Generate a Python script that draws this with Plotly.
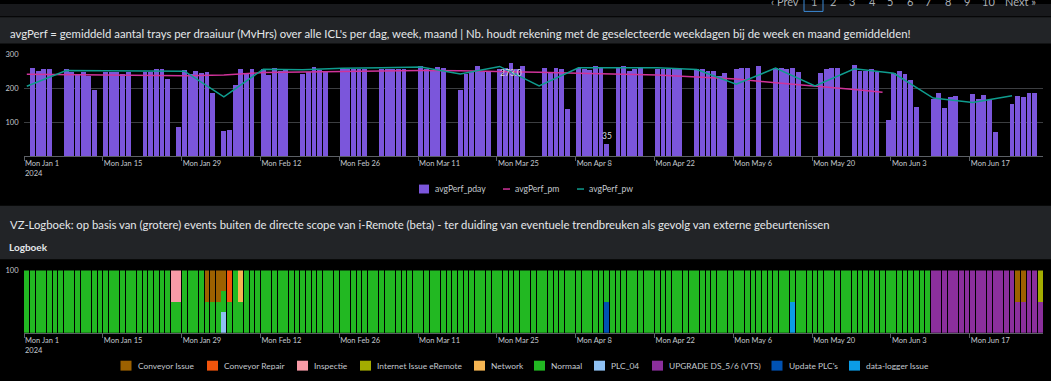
import pandas as pd
import plotly.graph_objects as go

# ---------------- data: top chart (avgPerf) ----------------
pday_dates = [
    "2024-01-02", "2024-01-03", "2024-01-04", "2024-01-05",
    "2024-01-08", "2024-01-09", "2024-01-10", "2024-01-11", "2024-01-12", "2024-01-13",
    "2024-01-15", "2024-01-16", "2024-01-17", "2024-01-18", "2024-01-19",
    "2024-01-22", "2024-01-23", "2024-01-24", "2024-01-25", "2024-01-26",
    "2024-01-28", "2024-01-29", "2024-01-30", "2024-01-31", "2024-02-01", "2024-02-02", "2024-02-03",
    "2024-02-05", "2024-02-06", "2024-02-07", "2024-02-08", "2024-02-09", "2024-02-10",
    "2024-02-12", "2024-02-13", "2024-02-14", "2024-02-15", "2024-02-16",
    "2024-02-19", "2024-02-20", "2024-02-21", "2024-02-22", "2024-02-23",
    "2024-02-26", "2024-02-27", "2024-02-28", "2024-02-29", "2024-03-01",
    "2024-03-04", "2024-03-05", "2024-03-06", "2024-03-07", "2024-03-08",
    "2024-03-11", "2024-03-12", "2024-03-13", "2024-03-14", "2024-03-15",
    "2024-03-18", "2024-03-19", "2024-03-20", "2024-03-21", "2024-03-22", "2024-03-23",
    "2024-03-25", "2024-03-26", "2024-03-27", "2024-03-28", "2024-03-29",
    "2024-04-02", "2024-04-03", "2024-04-04", "2024-04-05", "2024-04-06",
    "2024-04-08", "2024-04-09", "2024-04-10", "2024-04-11", "2024-04-12", "2024-04-13",
    "2024-04-15", "2024-04-16", "2024-04-17", "2024-04-18", "2024-04-19",
    "2024-04-22", "2024-04-23", "2024-04-24", "2024-04-25", "2024-04-26",
    "2024-04-29", "2024-04-30", "2024-05-01", "2024-05-02", "2024-05-03", "2024-05-04",
    "2024-05-06", "2024-05-07", "2024-05-08", "2024-05-10",
    "2024-05-13", "2024-05-14", "2024-05-15", "2024-05-16", "2024-05-17",
    "2024-05-21", "2024-05-22", "2024-05-23", "2024-05-24",
    "2024-05-27", "2024-05-28", "2024-05-29", "2024-05-30", "2024-05-31",
    "2024-06-02", "2024-06-03", "2024-06-04", "2024-06-05", "2024-06-06", "2024-06-07",
    "2024-06-10", "2024-06-11", "2024-06-12", "2024-06-13", "2024-06-14",
    "2024-06-17", "2024-06-18", "2024-06-19", "2024-06-20", "2024-06-21",
    "2024-06-24", "2024-06-25", "2024-06-26", "2024-06-27", "2024-06-28",
]
pday_values = [
    259, 252, 255, 257,
    255, 248, 241, 247, 235, 195,
    247, 247, 247, 243, 247,
    247, 247, 255, 255, 228,
    86, 253, 241, 251, 245, 247, 186,
    74, 77, 210, 255, 244, 255,
    255, 239, 259, 250, 256,
    243, 249, 262, 253, 247,
    255, 257, 255, 256, 255,
    255, 256, 255, 257, 256,
    266, 257, 250, 261, 259,
    194, 242, 249, 264, 248, 249,
    257, 258, 273, 256, 265,
    259, 249, 259, 255, 139,
    260, 255, 253, 265, 259, 35,
    258, 265, 252, 255, 258,
    257, 256, 256, 256, 257,
    256, 255, 252, 250, 237, 245,
    255, 259, 259, 265,
    259, 258, 257, 259, 249,
    245, 255, 259, 259,
    267, 251, 251, 257, 249,
    108, 245, 251, 241, 224, 146,
    169, 185, 142, 173, 176,
    182, 169, 180, 166, 72,
    153, 178, 173, 187, 185,
]

pm_dates = [
    "2024-01-01", "2024-01-08", "2024-01-15", "2024-01-22", "2024-01-29",
    "2024-02-05", "2024-02-12", "2024-02-19", "2024-02-26", "2024-03-04",
    "2024-03-11", "2024-03-18", "2024-03-25", "2024-04-01", "2024-04-08",
    "2024-04-15", "2024-04-22", "2024-04-29", "2024-05-06", "2024-05-13",
    "2024-05-20", "2024-05-27", "2024-06-01",
]
pm_values = [
    241, 240, 240, 239, 237,
    239, 246, 248, 250, 251,
    252, 251, 250, 247, 244,
    242, 239, 233, 227, 216,
    207, 196, 188,
]

pw_dates = [
    "2024-01-01", "2024-01-08", "2024-01-15", "2024-01-22", "2024-01-29",
    "2024-02-05", "2024-02-12", "2024-02-19", "2024-02-26", "2024-03-04",
    "2024-03-11", "2024-03-18", "2024-03-25", "2024-04-01", "2024-04-08",
    "2024-04-15", "2024-04-22", "2024-04-29", "2024-05-06", "2024-05-13",
    "2024-05-20", "2024-05-27", "2024-06-03", "2024-06-10", "2024-06-17",
    "2024-06-24",
]
pw_values = [
    206, 252, 251, 251, 250,
    175, 256, 254, 259, 260,
    262, 242, 264, 207, 260,
    260, 260, 255, 212, 259,
    207, 257, 244, 171, 158,
    178,
]

# ---------------- data: bottom chart (Logboek) ----------------
log_start, log_end = "2024-01-01", "2024-06-29"
log_categories = [
    "Conveyor Issue", "Conveyor Repair", "Inspectie", "Internet Issue eRemote",
    "Network", "Normaal", "PLC_04", "UPGRADE DS_5/6 (VTS)", "Update PLC's",
    "data-logger Issue",
]
# runs of (first day, last day, value) per category
log_runs = {
    "Conveyor Issue": [("2024-02-02", "2024-02-04", 50), ("2024-02-05", "2024-02-05", 33.3),
                       ("2024-06-25", "2024-06-26", 50)],
    "Conveyor Repair": [("2024-02-06", "2024-02-06", 50)],
    "Inspectie": [("2024-01-27", "2024-01-28", 50)],
    "Internet Issue eRemote": [("2024-06-29", "2024-06-29", 50)],
    "Network": [("2024-02-08", "2024-02-08", 50)],
    "Normaal": [("2024-01-01", "2024-01-26", 100), ("2024-01-27", "2024-01-28", 50),
                ("2024-01-29", "2024-02-01", 100), ("2024-02-02", "2024-02-04", 50),
                ("2024-02-05", "2024-02-05", 33.4), ("2024-02-06", "2024-02-06", 50),
                ("2024-02-07", "2024-02-07", 100), ("2024-02-08", "2024-02-08", 50),
                ("2024-02-09", "2024-04-12", 100), ("2024-04-13", "2024-04-13", 50),
                ("2024-04-14", "2024-05-15", 100), ("2024-05-16", "2024-05-16", 50),
                ("2024-05-17", "2024-06-09", 100)],
    "PLC_04": [("2024-02-05", "2024-02-05", 33.3)],
    "UPGRADE DS_5/6 (VTS)": [("2024-06-10", "2024-06-24", 100), ("2024-06-25", "2024-06-26", 50),
                             ("2024-06-27", "2024-06-28", 100), ("2024-06-29", "2024-06-29", 50)],
    "Update PLC's": [("2024-04-13", "2024-04-13", 50)],
    "data-logger Issue": [("2024-05-16", "2024-05-16", 50)],
}
log_colors = {
    "Conveyor Issue": "#9c6100",
    "Conveyor Repair": "#f2540c",
    "Inspectie": "#f79aa6",
    "Internet Issue eRemote": "#a3ac00",
    "Network": "#f6b552",
    "Normaal": "#22b822",
    "PLC_04": "#8fc1f3",
    "UPGRADE DS_5/6 (VTS)": "#8b2f9c",
    "Update PLC's": "#0052b3",
    "data-logger Issue": "#0b9ce6",
}

tick_dates = ["2024-01-01", "2024-01-15", "2024-01-29", "2024-02-12", "2024-02-26",
              "2024-03-11", "2024-03-25", "2024-04-08", "2024-04-22", "2024-05-06",
              "2024-05-20", "2024-06-03", "2024-06-17"]
tick_labels = ["Mon Jan 1<br>2024", "Mon Jan 15", "Mon Jan 29", "Mon Feb 12", "Mon Feb 26",
               "Mon Mar 11", "Mon Mar 25", "Mon Apr 8", "Mon Apr 22", "Mon May 6",
               "Mon May 20", "Mon Jun 3", "Mon Jun 17"]

title_top = ("avgPerf = gemiddeld aantal trays per draaiuur (MvHrs) over alle ICL's per dag, week, "
             "maand | Nb. houdt rekening met de geselecteerde weekdagen bij de week en maand gemiddelden!")
title_bottom = ("VZ-Logboek: op basis van (grotere) events buiten de directe scope van i-Remote (beta) - "
                "ter duiding van eventuele trendbreuken als gevolg van externe gebeurtenissen")
subtitle_bottom = "Logboek"

# ---------------- styling ----------------
W, H = 1051, 381
FONT = "Lato"
PDAY_COLOR = "#7b56db"
PM_COLOR = "#d0339a"
PW_COLOR = "#0f9c8e"
GRID = "#3c3e41"
AXIS = "#5c6065"
TICK = "#c3c8ce"
TEXT = "#e4e7ea"
BAND = "#222427"
DAY_MS = 86400000


def fx(px):
    return px / W


def fy(py):
    return 1 - py / H


fig = go.Figure()

fig.add_trace(go.Bar(
    x=pday_dates, y=pday_values, name="avgPerf_pday",
    marker=dict(color=PDAY_COLOR, line=dict(width=0)),
    xperiod=DAY_MS, xperiodalignment="middle",
    xaxis="x", yaxis="y", showlegend=False, hoverinfo="x+y",
))
fig.add_trace(go.Scatter(
    x=pm_dates, y=pm_values, name="avgPerf_pm", mode="lines",
    line=dict(color=PM_COLOR, width=1.5),
    xperiod=DAY_MS, xperiodalignment="middle",
    xaxis="x", yaxis="y", showlegend=False,
))
fig.add_trace(go.Scatter(
    x=pw_dates, y=pw_values, name="avgPerf_pw", mode="lines",
    line=dict(color=PW_COLOR, width=1.5),
    xperiod=DAY_MS, xperiodalignment="middle",
    xaxis="x", yaxis="y", showlegend=False,
))

log_days = pd.date_range(log_start, log_end, freq="D")
for cat in reversed(log_categories):  # first category stacked on top
    s = pd.Series([None] * len(log_days), index=log_days, dtype="float64")
    for a, b, v in log_runs[cat]:
        s[a:b] = v
    fig.add_trace(go.Bar(
        x=[d.strftime("%Y-%m-%d") for d in log_days], y=s.tolist(), name=cat,
        marker=dict(color=log_colors[cat], line=dict(width=0)),
        xperiod=DAY_MS, xperiodalignment="middle",
        xaxis="x2", yaxis="y2", showlegend=False,
    ))

x_common = dict(
    type="date", range=["2024-01-01", "2024-06-30"],
    tickvals=tick_dates, ticktext=tick_labels,
    ticks="outside", ticklen=4, tickcolor=AXIS, tickwidth=1,
    showline=True, linecolor=AXIS, linewidth=1,
    showgrid=False, zeroline=False,
    tickfont=dict(family=FONT, size=7.5, color=TICK),
    ticklabelposition="outside right", fixedrange=True,
)
y_common = dict(
    ticks="outside", ticklen=3, tickcolor="rgba(0,0,0,0)",
    showline=False, zeroline=False,
    tickfont=dict(family=FONT, size=7.5, color=TICK), fixedrange=True,
)

fig.update_layout(
    width=W, height=H, autosize=False,
    margin=dict(l=0, r=0, t=0, b=0, pad=0),
    paper_bgcolor="#000000", plot_bgcolor="#000000",
    barmode="stack", bargap=0.14,
    font=dict(family=FONT, color=TEXT),
    showlegend=False,
    xaxis=dict(domain=[fx(24), fx(1043)], anchor="y", **x_common),
    yaxis=dict(domain=[fy(154), fy(50.7)], range=[0, 300], tickvals=[100, 200, 300],
               showgrid=True, gridcolor=GRID, gridwidth=1, anchor="x", **y_common),
    xaxis2=dict(domain=[fx(24), fx(1043)], anchor="y2", **x_common),
    yaxis2=dict(domain=[fy(332.3), fy(269.3)], range=[0, 100], tickvals=[100],
                showgrid=False, anchor="x2", **y_common),
)

shapes = []
annotations = []

# background bands of the dashboard
shapes.append(dict(type="rect", xref="paper", yref="paper", x0=0, x1=1, y0=fy(12.5), y1=1,
                   fillcolor="#18191c", line=dict(width=0), layer="below"))
shapes.append(dict(type="rect", xref="paper", yref="paper", x0=0, x1=1, y0=fy(40), y1=fy(13.5),
                   fillcolor=BAND, line=dict(width=0), layer="below"))
shapes.append(dict(type="rect", xref="paper", yref="paper", x0=0, x1=1, y0=fy(258), y1=fy(204),
                   fillcolor=BAND, line=dict(width=0), layer="below"))

# panel titles
annotations.append(dict(text=title_top, xref="paper", yref="paper", x=fx(8), y=fy(29.5),
                        xanchor="left", yanchor="middle", showarrow=False,
                        font=dict(family=FONT, size=11.35, color=TEXT)))
annotations.append(dict(text=title_bottom, xref="paper", yref="paper", x=fx(8), y=fy(222.5),
                        xanchor="left", yanchor="middle", showarrow=False,
                        font=dict(family=FONT, size=11.3, color=TEXT)))
annotations.append(dict(text="<b>" + subtitle_bottom + "</b>", xref="paper", yref="paper",
                        x=fx(7), y=fy(246), xanchor="left", yanchor="middle", showarrow=False,
                        font=dict(family=FONT, size=10, color=TEXT)))

# pagination (cut off at the top of the page)
pager = [("‹ Prev", 785), ("1", 813.5), ("2", 833), ("3", 852), ("4", 872), ("5", 890),
         ("6", 910), ("7", 928), ("8", 948), ("9", 967), ("10", 988), ("Next »", 1020)]
for label, cx in pager:
    annotations.append(dict(text=label, xref="paper", yref="paper", x=fx(cx), y=fy(-2.5),
                            xanchor="center", yanchor="middle", showarrow=False,
                            font=dict(family=FONT, size=11, color="#a9aeb3")))
shapes.append(dict(type="rect", xref="paper", yref="paper", x0=fx(804), x1=fx(823),
                   y0=fy(7.5), y1=fy(-12), line=dict(color="#3b8ad6", width=1),
                   fillcolor="rgba(0,0,0,0)"))

# min / max data labels of the daily series
imax = max(range(len(pday_values)), key=lambda i: pday_values[i])
imin = min(range(len(pday_values)), key=lambda i: pday_values[i])
t_max = pd.Timestamp(pday_dates[imax]) + pd.Timedelta(hours=12)
t_min = pd.Timestamp(pday_dates[imin]) + pd.Timedelta(hours=12)
annotations.append(dict(text=f"{pday_values[imax]:.1f}", xref="x", yref="y",
                        x=t_max.strftime("%Y-%m-%d %H:%M"), y=pday_values[imax],
                        xanchor="center", yanchor="top", yshift=-3, showarrow=False,
                        font=dict(family=FONT, size=8.5, color="#d7dade")))
annotations.append(dict(text=f"{pday_values[imin]:g}", xref="x", yref="y",
                        x=t_min.strftime("%Y-%m-%d %H:%M"), y=pday_values[imin],
                        xanchor="center", yanchor="bottom", yshift=1, showarrow=False,
                        font=dict(family=FONT, size=8.5, color="#d7dade")))

# legend of the top chart (drawn by hand to match the dashboard style)
top_legend = [("square", PDAY_COLOR, "avgPerf_pday", 419, 433),
              ("line", PM_COLOR, "avgPerf_pm", 503, 513),
              ("line", PW_COLOR, "avgPerf_pw", 577, 587)]
ly = 187
for kind, color, label, sx, tx in top_legend:
    if kind == "square":
        shapes.append(dict(type="rect", xref="paper", yref="paper", x0=fx(sx), x1=fx(sx + 10),
                           y0=fy(ly + 4.5), y1=fy(ly - 4.5), fillcolor=color, line=dict(width=0)))
    else:
        shapes.append(dict(type="line", xref="paper", yref="paper", x0=fx(sx), x1=fx(sx + 7),
                           y0=fy(ly), y1=fy(ly), line=dict(color=color, width=1.5)))
    annotations.append(dict(text=label, xref="paper", yref="paper", x=fx(tx), y=fy(ly),
                            xanchor="left", yanchor="middle", showarrow=False,
                            font=dict(family=FONT, size=8.6, color=TICK)))

# legend of the bottom chart
bottom_legend_x = [120.5, 207, 297, 360, 474, 534, 594, 652, 771.5, 849]
ly2 = 365.5
for cat, sx in zip(log_categories, bottom_legend_x):
    shapes.append(dict(type="rect", xref="paper", yref="paper", x0=fx(sx), x1=fx(sx + 11),
                       y0=fy(ly2 + 5), y1=fy(ly2 - 5), fillcolor=log_colors[cat], line=dict(width=0)))
    annotations.append(dict(text=cat, xref="paper", yref="paper", x=fx(sx + 15), y=fy(ly2),
                            xanchor="left", yanchor="middle", showarrow=False,
                            font=dict(family=FONT, size=8.4, color=TICK)))

fig.update_layout(shapes=shapes, annotations=annotations)

fig.write_html("out.html", config={"displayModeBar": False},
               post_script="document.body.style.margin='0';document.body.style.overflow='hidden';")
